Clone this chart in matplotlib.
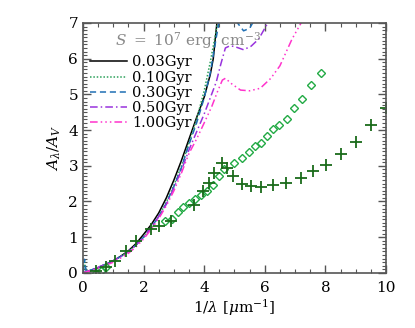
import matplotlib
matplotlib.use("Agg")
import matplotlib.pyplot as plt
from matplotlib.ticker import MultipleLocator

plt.rcParams['font.family'] = ['DejaVu Serif']
plt.rcParams['mathtext.fontset'] = 'dejavuserif'

# ---- data ----
labels = ['0.03Gyr', '0.10Gyr', '0.30Gyr', '0.50Gyr', '1.00Gyr']

x_low = [0.0, 0.2, 0.4, 0.6, 0.8, 1.0, 1.25, 1.5, 1.75, 2.0, 2.25, 2.5]
y_low = [0.0, 0.06, 0.12, 0.19, 0.26, 0.34, 0.46, 0.6, 0.78, 1.0, 1.27, 1.58]

x_003 = [0.0, 0.2, 0.4, 0.6, 0.8, 1.0, 1.25, 1.5, 1.75, 2.0, 2.25, 2.5, 2.75, 3.0, 3.25, 3.5, 3.75, 4.0, 4.2, 4.3, 4.42, 4.55]
y_003 = [0.0, 0.05, 0.11, 0.18, 0.26, 0.34, 0.47, 0.62, 0.82, 1.08, 1.35, 1.68, 2.1, 2.6, 3.15, 3.75, 4.35, 4.92, 5.55, 6.0, 7.0, 8.0]

x_010 = [0.0, 0.05, 0.1] + x_low[1:] + [2.75, 3.0, 3.25, 3.5, 3.75, 4.0, 4.2, 4.4, 4.55]
y_010 = [0.0, 0.3, 0.05] + y_low[1:] + [1.98, 2.45, 3.0, 3.65, 4.3, 5.1, 5.9, 6.8, 7.6]

x_030 = [0.0, 0.05, 0.1] + x_low[1:] + [2.75, 3.0, 3.25, 3.5, 3.75, 4.0, 4.2, 4.4, 4.55, 4.8, 5.0, 5.1, 5.3, 5.5, 5.6, 5.8]
y_030 = [0.0, 0.38, 0.05] + y_low[1:] + [1.95, 2.42, 2.95, 3.6, 4.2, 4.9, 5.6, 6.6, 7.3, 7.6, 7.2, 7.0, 6.78, 6.85, 7.0, 7.4]

x_050 = x_low + [2.75, 3.0, 3.25, 3.5, 3.75, 4.0, 4.2, 4.4, 4.55, 4.7, 4.85, 5.0, 5.3, 5.55, 5.8, 6.1, 6.3]
y_050 = y_low + [1.92, 2.38, 2.88, 3.45, 3.95, 4.45, 4.9, 5.35, 5.85, 6.3, 6.36, 6.34, 6.25, 6.35, 6.55, 7.0, 7.3]

x_100 = x_low + [2.75, 3.0, 3.25, 3.5, 3.75, 4.0, 4.25, 4.45, 4.6, 4.7, 4.9, 5.2, 5.5, 5.85, 6.2, 6.5, 6.9, 7.2, 7.4]
y_100 = [0.0, 0.05, 0.1, 0.16, 0.23, 0.3, 0.42, 0.55, 0.73, 0.95, 1.22, 1.52,
         1.88, 2.3, 2.8, 3.35, 3.75, 4.2, 4.66, 5.1, 5.4, 5.45, 5.3, 5.12, 5.1, 5.17, 5.45, 5.8, 6.55, 7.0, 7.3]

# observed curves
x_cross = [0.44, 0.77, 1.04, 1.41, 1.76, 2.25, 2.5, 2.89, 3.67, 3.97, 4.16, 4.34, 4.58, 4.74, 4.96, 5.26, 5.54, 5.87, 6.26, 6.70, 7.18, 7.6, 8.01, 8.5, 9.01, 9.5, 10.0]
y_cross = [0.04, 0.16, 0.34, 0.6, 0.88, 1.23, 1.3, 1.45, 1.9, 2.3, 2.51, 2.79, 3.07, 2.94, 2.70, 2.5, 2.42, 2.40, 2.45, 2.53, 2.66, 2.84, 3.03, 3.33, 3.68, 4.13, 4.63]

x_diam = [0.44, 0.6, 0.75, 2.7, 2.95, 3.15, 3.3, 3.5, 3.7, 3.88, 4.1, 4.3, 4.5, 4.67, 5.0, 5.24, 5.49, 5.68, 5.86, 6.06, 6.26, 6.47, 6.72, 6.97, 7.24, 7.52, 7.84]
y_diam = [0.01, 0.06, 0.17, 1.45, 1.5, 1.7, 1.85, 1.95, 2.06, 2.17, 2.29, 2.45, 2.7, 2.92, 3.08, 3.22, 3.38, 3.56, 3.65, 3.83, 4.03, 4.13, 4.3, 4.63, 4.88, 5.25, 5.59]

# ---- plot ----
fig = plt.figure(figsize=(4.15, 3.28), dpi=100)
ax = fig.add_axes([0.2, 0.168, 0.73, 0.762])

ax.plot(x_003, y_003, color='black', lw=1.1, ls='-', label=labels[0])
ax.plot(x_010, y_010, color='#2ca05a', lw=1.1, ls=(0, (1, 1.2)), label=labels[1])
ax.plot(x_030, y_030, color='#1f6fb4', lw=1.1, ls=(0, (4, 2.5)), label=labels[2])
ax.plot(x_050, y_050, color='#9933dd', lw=1.1, ls=(0, (5, 2, 1, 2)), label=labels[3])
ax.plot(x_100, y_100, color='#ff33cc', lw=1.1, ls=(0, (5, 2, 1, 2, 1, 2, 1, 2)), label=labels[4])

ax.plot(x_diam, y_diam, ls='none', marker='D', ms=4.2, mfc='none', mec='#22aa44', mew=1.0)
ax.plot(x_cross, y_cross, ls='none', marker='+', ms=9, mec='#1a6b1a', mew=1.3)

ax.set_xlim(0, 10)
ax.set_ylim(0, 7)
ax.xaxis.set_major_locator(MultipleLocator(2))
ax.xaxis.set_minor_locator(MultipleLocator(0.5))
ax.yaxis.set_major_locator(MultipleLocator(1))
ax.yaxis.set_minor_locator(MultipleLocator(0.1))
ax.tick_params(which='both', direction='in', top=True, right=True, labelsize=11, colors='#555555', labelcolor='black')
ax.tick_params(which='major', length=6, width=1)
ax.tick_params(which='minor', length=3, width=0.8)
ax.tick_params(axis='x', pad=6)
for s in ax.spines.values():
    s.set_color('#555555')
    s.set_linewidth(1.2)

ax.set_xlabel(r'$1/\lambda\ [\mu{\rm m}^{-1}]$', fontsize=11, labelpad=1)
ax.set_ylabel(r'$A_\lambda/A_V$', fontsize=11, labelpad=4)

ax.text(1.05, 6.52, r'$S\ =\ 10^7\ {\rm erg\ \ cm^{-3}}$', fontsize=11, color='#888888', va='center', ha='left')

leg = ax.legend(loc='upper left', bbox_to_anchor=(-0.005, 0.905), frameon=False, fontsize=10.5,
                handlelength=2.5, handletextpad=0.35, labelspacing=0.08, borderaxespad=0.2)

fig.savefig('out.png', dpi=100)
